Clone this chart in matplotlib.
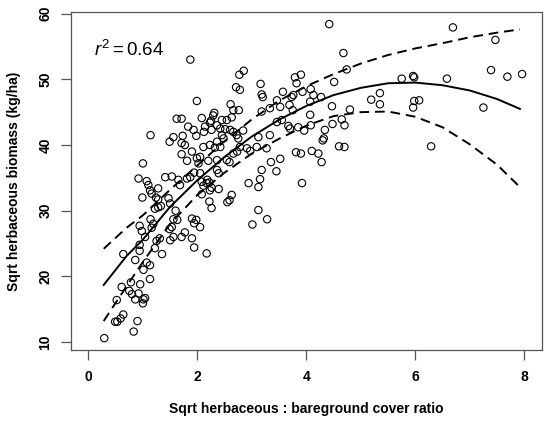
import numpy as np
import matplotlib
matplotlib.use('Agg')
import matplotlib.pyplot as plt

plt.rcParams['font.family'] = ['Liberation Sans', 'DejaVu Sans']
plt.rcParams['mathtext.fontset'] = 'custom'
plt.rcParams['mathtext.rm'] = 'Liberation Sans'
plt.rcParams['mathtext.it'] = 'Liberation Sans:italic'

# observations: sqrt herbaceous : bareground cover ratio vs sqrt biomass
ratio = [
    1.87, 2.85, 2.77, 2.71, 2.78, 1.99, 3.16, 3.18, 3.20, 2.61, 2.66, 2.76,
    2.29, 2.08, 2.25, 1.62, 1.71, 1.83, 1.93, 1.14, 1.56, 1.73, 1.49, 1.71,
    1.77, 2.14, 1.98, 2.12, 2.11, 2.23, 1.71, 1.81, 1.90, 1.99, 1.00, 0.92,
    1.07, 1.10, 1.13, 1.16, 0.99, 1.28, 1.41, 1.53, 1.65, 1.68, 1.81, 1.87,
    1.94, 2.05, 2.08, 2.17, 2.23, 1.24, 1.28, 1.47, 1.50, 1.33, 1.22, 1.28,
    1.60, 1.56, 1.63, 1.14, 1.19, 0.94, 1.90, 1.98, 1.94, 2.05, 1.53, 0.98,
    1.16, 1.04, 1.25, 1.31, 1.49, 1.50, 1.56, 1.71, 1.77, 1.90, 1.94, 2.17,
    0.94, 0.94, 0.64, 1.22, 1.35, 0.86, 1.01, 1.07, 1.13, 1.13, 0.95, 0.78,
    0.61, 0.75, 0.80, 0.92, 0.86, 1.01, 1.00, 1.04, 0.52, 0.64, 0.59, 0.53,
    0.49, 0.90, 0.83, 0.29, 3.79, 3.90, 3.82, 3.57, 3.73, 3.93, 4.08, 4.13,
    4.07, 3.69, 3.46, 3.33, 3.52, 3.18, 2.31, 2.23, 2.36, 2.45, 2.54, 2.63,
    2.26, 2.42, 2.51, 2.60, 2.66, 2.72, 2.75, 2.84, 2.45, 2.48, 2.36, 2.42,
    2.32, 2.78, 2.91, 3.09, 3.27, 3.12, 3.33, 3.46, 3.55, 3.67, 3.70, 3.85,
    3.96, 4.08, 3.75, 4.34, 4.32, 4.30, 4.07, 3.76, 4.27, 4.47, 4.80, 4.48,
    4.65, 4.70, 4.60, 4.70, 4.42, 6.69, 7.47, 4.68, 4.74, 4.51, 5.75, 5.96,
    5.98, 6.58, 7.39, 7.69, 7.96, 5.19, 5.35, 5.35, 5.98, 6.07, 5.96, 7.25,
    6.29, 2.97, 3.35, 3.52, 3.45, 3.18, 3.15, 2.94, 3.12, 3.81, 3.90, 4.10,
    4.22, 4.28, 3.92, 3.12, 3.28, 3.01, 2.20, 2.36, 2.54, 2.59, 2.73, 2.66,
    2.36, 2.39, 2.18, 2.22, 2.11, 2.26, 2.39, 2.08, 2.22, 2.26, 2.55, 2.59,
    2.63, 2.02, 2.05,
]
biomass = [
    53.0, 51.3, 50.7, 48.8, 48.4, 46.7, 49.3, 47.7, 47.3, 46.2, 45.3, 45.3,
    44.5, 44.1, 43.7, 44.0, 44.0, 42.8, 42.3, 41.5, 41.2, 41.4, 40.5, 40.3,
    40.0, 42.8, 41.4, 42.0, 39.7, 40.0, 38.6, 37.6, 39.0, 38.0, 37.2, 34.9,
    34.5, 33.9, 33.1, 32.6, 32.0, 33.4, 35.1, 35.2, 34.7, 33.9, 34.9, 35.1,
    35.8, 35.7, 34.4, 34.2, 33.1, 32.0, 31.7, 31.9, 31.1, 30.7, 30.3, 30.5,
    30.0, 28.7, 28.6, 28.7, 28.0, 27.7, 28.8, 28.6, 28.1, 27.5, 27.5, 26.9,
    27.4, 26.0, 25.4, 25.8, 27.2, 25.5, 26.0, 26.0, 26.7, 25.8, 24.4, 23.5,
    24.8, 23.9, 23.4, 24.3, 23.4, 22.5, 21.0, 22.1, 21.7, 19.6, 18.8, 19.1,
    18.4, 17.8, 17.3, 17.4, 16.5, 16.5, 15.9, 16.7, 16.4, 14.2, 13.6, 13.1,
    13.1, 13.2, 11.6, 10.6, 50.3, 50.7, 49.4, 48.1, 47.3, 48.1, 48.5, 47.6,
    46.6, 46.1, 46.8, 45.6, 45.8, 45.1, 44.9, 43.4, 43.0, 43.8, 43.8, 44.2,
    42.3, 42.5, 42.4, 42.3, 42.0, 41.5, 41.0, 42.2, 41.5, 41.0, 40.5, 39.7,
    39.6, 39.7, 39.5, 39.7, 39.5, 41.2, 41.5, 43.5, 43.8, 42.9, 42.5, 42.7,
    42.2, 43.0, 45.3, 42.3, 41.0, 40.7, 44.6, 47.6, 47.3, 45.9, 45.4, 43.2,
    43.9, 43.0, 39.8, 39.7, 58.4, 57.9, 56.0, 54.0, 51.5, 49.6, 50.1, 50.5,
    50.3, 50.1, 51.4, 50.4, 50.8, 46.9, 47.9, 46.2, 46.7, 46.8, 45.7, 45.7,
    39.8, 39.1, 37.4, 37.9, 36.0, 36.2, 34.8, 34.2, 33.6, 38.9, 38.7, 39.1,
    38.7, 37.4, 34.2, 30.1, 28.7, 27.9, 37.6, 37.7, 37.7, 37.4, 39.0, 38.7,
    36.2, 35.7, 34.7, 34.3, 33.8, 33.5, 33.3, 32.5, 31.4, 30.4, 31.3, 31.6,
    32.4, 37.2, 38.2,
]

# fitted curve and band
curve_x = [0.28, 0.7, 1.0, 1.5, 2.0, 2.5, 3.0, 3.5, 4.0, 4.5, 5.0, 5.5,
           6.0, 6.5, 7.0, 7.5, 7.92]
fit_y = [18.7, 23.1, 25.6, 30.6, 34.65, 38.2, 41.3, 43.85, 45.95, 47.6,
         48.7, 49.4, 49.5, 49.1, 48.3, 47.0, 45.5]
upper_y = [24.2, 27.4, 29.3, 33.2, 36.9, 40.6, 43.9, 46.75, 48.95, 50.8,
           52.4, 53.7, 54.7, 55.5, 56.4, 57.1, 57.6]
lower_y = [13.2, 18.5, 22.2, 28.0, 32.4, 35.8, 38.7, 40.95, 42.95, 44.4,
           45.0, 45.1, 44.3, 42.7, 40.1, 37.0, 33.6]

W, H = 550, 423
fig = plt.figure(figsize=(W / 100, H / 100), dpi=100)
ax = fig.add_axes([71 / W, 1 - 350.3 / H, 470.7 / W, 338 / H])

ax.scatter(ratio, biomass, s=28, facecolors='none', edgecolors='black',
           linewidths=0.8, zorder=2)
ax.plot(curve_x, fit_y, color='black', lw=1.4, zorder=3)
ax.plot(curve_x, upper_y, color='black', lw=1.4, ls=(0, (5, 3)), zorder=3)
ax.plot(curve_x, lower_y, color='black', lw=1.4, ls=(0, (5, 3)), zorder=3)

ax.text(0.1, 53.5, r'$r^2 = 0.64$', fontsize=13.5, va='baseline')

ax.set_xlim(-0.32, 8.32)
ax.set_ylim(8.75, 60.2)
ax.set_xticks([0, 2, 4, 6, 8])
ax.set_yticks([10, 20, 30, 40, 50, 60])

for sp in ax.spines.values():
    sp.set_color('#555555')
    sp.set_linewidth(0.9)
ax.tick_params(colors='#555555', labelcolor='black', length=7, width=0.9,
               labelsize=10)
ax.tick_params(axis='x', pad=7)
ax.tick_params(axis='y', pad=6.5, labelrotation=90)
for lab in ax.get_xticklabels() + ax.get_yticklabels():
    lab.set_fontweight('bold')
for lab in ax.get_yticklabels():
    lab.set_va('center')

fig.text(306.3 / W, 1 - 409 / H, 'Sqrt herbaceous : bareground cover ratio',
         ha='center', va='center', fontsize=10, fontweight='bold')
fig.text(14 / W, 1 - 181 / H, 'Sqrt herbaceous biomass (kg/ha)',
         ha='center', va='center', rotation=90, fontsize=10,
         fontweight='bold')

fig.savefig('out.png', dpi=100)
